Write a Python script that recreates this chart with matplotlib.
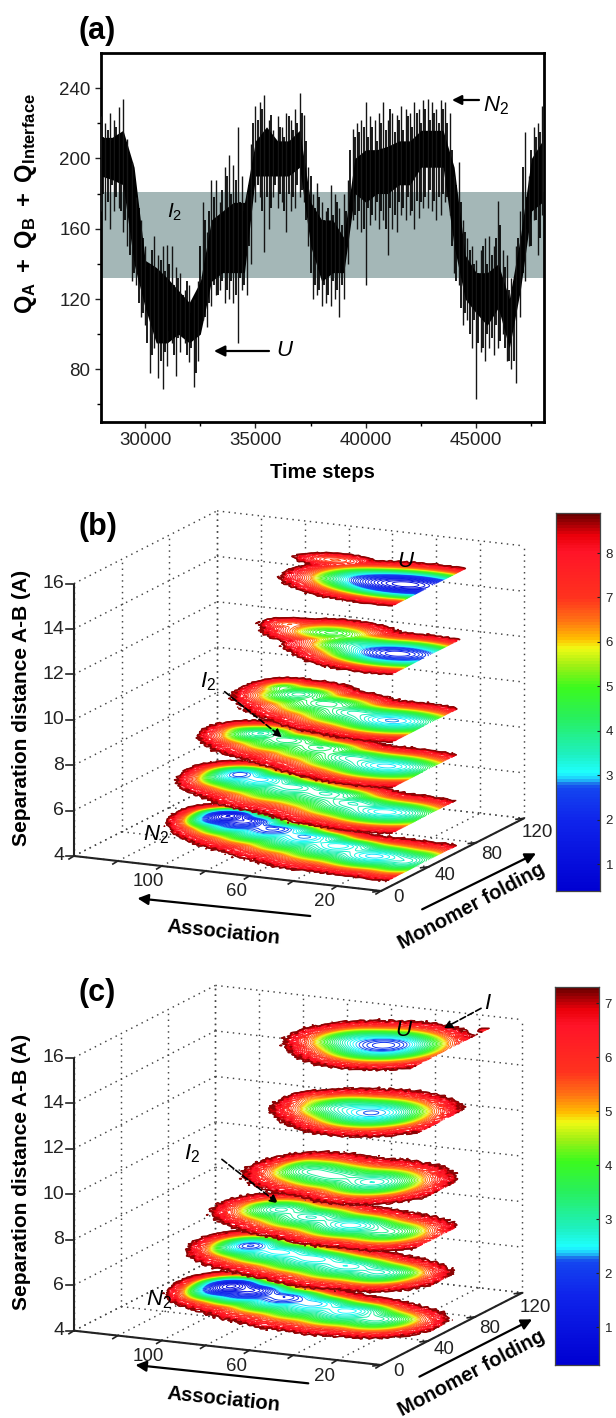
import numpy as np
import matplotlib
matplotlib.use('Agg')
import matplotlib.pyplot as plt
from matplotlib.colors import LinearSegmentedColormap
from matplotlib.transforms import Affine2D

plt.rcParams['font.family'] = ['Liberation Sans', 'DejaVu Sans']
plt.rcParams['mathtext.fontset'] = 'custom'
plt.rcParams['mathtext.rm'] = 'Liberation Sans'
plt.rcParams['mathtext.it'] = 'Liberation Sans:italic'
plt.rcParams['mathtext.bf'] = 'Liberation Sans:bold'

# ---------- panel (a) data ----------
t_start, t_step = 28000, 200
q_hi = [224,220,226,222,229,234,211,198,178,165,150,140,156,145,150,151,150,138,135,125,128,120,130,175,158,188,188,175,195,202,196,218,190,180,208,230,232,236,222,216,224,218,226,222,228,237,225,195,180,186,175,170,185,180,172,180,188,217,220,222,232,224,222,226,232,222,226,225,230,228,226,232,228,233,234,232,228,233,232,226,190,198,165,155,150,142,148,155,156,150,176,148,145,132,150,170,215,190,218,220,230]
q_lo = [170,165,160,170,172,158,150,130,128,110,105,78,92,75,69,82,95,76,90,95,84,70,85,108,104,116,122,125,118,120,118,95,125,122,140,175,178,147,160,178,172,175,158,170,172,178,175,150,120,122,116,118,116,120,110,120,140,165,160,158,128,162,165,160,165,145,160,158,168,165,168,160,166,172,172,170,165,168,175,168,135,128,105,108,92,63,90,85,92,88,92,100,85,80,72,110,130,150,165,145,168]
t2_start = 28100
q_hi2 = [212,216,210,218,214,208,200,188,172,155,138,148,135,142,136,140,128,132,122,130,112,118,150,165,170,178,165,182,190,180,188,175,170,185,220,222,228,215,225,210,218,212,224,216,220,226,210,190,172,178,165,172,168,175,162,170,205,212,215,218,212,218,210,220,216,228,215,222,216,224,218,226,220,228,222,226,220,228,220,205,185,175,158,148,140,135,150,140,145,155,162,138,125,122,155,195,178,205,212,215]
q_lo2 = [180,175,185,178,170,165,145,135,118,112,95,88,100,85,90,102,88,98,100,88,92,78,102,110,118,128,122,130,125,130,122,132,128,150,180,185,170,178,172,185,180,170,180,178,185,182,165,135,128,125,128,122,130,125,128,150,170,168,170,160,172,168,175,170,160,172,168,175,172,178,170,176,175,178,182,176,178,180,178,150,130,115,112,100,108,95,92,100,98,105,96,92,85,85,120,135,160,150,165,155]
core_step = 500
core_hi = [212,212,216,195,142,138,132,125,118,130,165,170,175,175,210,218,210,210,216,175,165,165,155,200,205,205,207,210,210,216,216,216,195,145,135,135,140,120,155,200,210]
core_lo = [190,188,185,140,115,95,95,100,95,100,130,135,135,135,190,190,190,190,195,150,130,135,135,180,175,180,180,185,185,195,195,195,150,120,112,105,115,92,125,170,175]
band_i2 = [132, 181]

# ---------- panels (b)/(c) data: wells of the landscape per slice ----------
# each well: association, monomer folding, width a, width f upward, width f downward, free energy
slices_b = {
    4:  [(112,78,7,6,10,1.0),(102,74,9,6,12,1.7),(86,68,12,6,13,2.4),(68,62,12,6,14,2.8),(49,55,13,7,14,3.0),(28,46,14,10,11,2.9),(12,44,9,11,11,3.5)],
    6:  [(23,46,15,10,11,3.0),(42,53,13,8,13,3.5),(58,62,13,7,14,3.6),(76,66,13,7,14,3.4),(93,71,11,7,12,2.9),(105,75,8,7,11,2.6)],
    8:  [(23,47,15,10,11,2.9),(42,53,13,8,12,3.6),(61,62,12,7,13,4.0),(79,67,12,7,12,3.9),(94,72,9,7,10,3.6),(104,74,5,5,6,5.6)],
    10: [(21,48,15,10,11,2.8),(41,53,13,8,12,3.6),(58,61,13,8,12,3.9),(75,69,10,8,10,3.8),(86,76,6,6,6,4.8)],
    13: [(18,47,15,10,10,1.8),(38,52,12,9,9,3.6),(58,65,12,8,8,4.6),(80,70,6,5,5,6.8)],
    16: [(16,50,17,10,10,0.9),(35,52,12,9,9,3.0),(60,72,9,5,5,7.0)],
}
slices_c = {
    4:  [(114,85,8,8,12,0.7),(103,82,10,8,13,1.2),(86,78,12,8,15,1.9),(70,74,12,8,16,2.3),(52,69,13,9,15,2.4),(35,62,12,10,12,3.0)],
    6:  [(35,64,12,10,12,2.8),(52,68,14,10,14,2.6),(70,73,14,9,14,2.5),(88,77,14,9,13,2.4),(103,81,9,9,11,2.0)],
    8:  [(29,58,12,12,12,3.2),(47,62,14,11,13,2.5),(68,67,14,11,13,2.8),(85,73,11,10,12,2.9),(95,76,5,5,7,4.8)],
    10: [(37,62,13,14,14,2.7),(56,64,14,13,13,3.0),(68,68,11,12,12,3.1),(76,74,6,9,9,4.2)],
    13: [(38,63,14,14,14,2.2),(52,66,12,12,12,2.9),(70,72,6,8,8,5.3)],
    16: [(33,64,14,14,14,1.8),(46,67,12,12,12,2.8),(5,100,3,2,2,6.5)],
}
edge_rough = [0.4,-0.7,0.9,-0.2,0.6,-0.9,0.2,0.8,-0.5,-0.1,0.7,-0.8,0.3,
              -0.6,0.5,-0.3,0.9,-0.7,0.1,-0.9,0.6,0.4,-0.2,0.8,-0.4,
              0.7,0.1,-0.8,0.5,-0.5,0.9,-0.1,-0.6,0.3,0.8,-0.9,0.2]
z_ticks = [4,6,8,10,12,14,16]
a_ticks = [140,120,100,80,60,40,20,0]
f_ticks = [0,40,80,120]
a_labels = {100:'100',60:'60',20:'20'}
f_labels = {0:'0',40:'40',80:'80',120:'120'}
cb_ticks_b = [1,2,3,4,5,6,7,8]
cb_ticks_c = [1,2,3,4,5,6,7]

cm_stops = [(0.0,(0,0,210)),(0.18,(15,35,235)),(0.272,(20,70,240)),(0.285,(30,130,235)),(0.292,(30,195,250)),
            (0.31,(30,255,255)),(0.36,(30,240,190)),(0.46,(40,240,90)),(0.54,(60,250,30)),
            (0.60,(160,240,20)),(0.645,(240,250,20)),(0.67,(255,190,0)),(0.72,(255,110,20)),
            (0.78,(255,50,30)),(0.90,(255,20,40)),(0.945,(235,0,10)),(1.0,(105,0,0))]
cmap = LinearSegmentedColormap.from_list('land', [(p, tuple(v/255 for v in c)) for p, c in cm_stops], N=256)

W, H = 616, 1418
fig = plt.figure(figsize=(W/100, H/100), dpi=100)

def box(l, t, r, b):
    return [l/W, 1-b/H, (r-l)/W, (b-t)/H]

# ---------- panel a ----------
ax = fig.add_axes(box(101, 53, 543.5, 422))
t = t_start + t_step*np.arange(len(q_hi))
t2 = t2_start + t_step*np.arange(len(q_hi2))
tc = t_start + core_step*np.arange(len(core_hi))
ax.axhspan(band_i2[0], band_i2[1], color='#a4b7b7', lw=0, zorder=1)
ax.fill_between(tc, core_lo, core_hi, color='black', lw=0, zorder=2)
ax.vlines(t, q_lo, q_hi, color='#151515', lw=1.0, zorder=3)
ax.vlines(t2, q_lo2, q_hi2, color='#000000', lw=1.25, zorder=3)
ax.set_xlim(28000, 48050)
ax.set_ylim(50, 260)
ax.set_xticks([30000,35000,40000,45000])
ax.set_xticks([32500,37500,42500,47500], minor=True)
ax.set_yticks([80,120,160,200,240])
ax.set_yticks([60,100,140,180,220], minor=True)
ax.tick_params(axis='both', which='major', labelsize=13.5, length=4, width=1, colors='#222222')
ax.tick_params(axis='both', which='minor', length=3, width=1)
for s in ax.spines.values():
    s.set_linewidth(2)
ax.set_xlabel('Time steps', fontsize=14.5, fontweight='bold', labelpad=10)

# ---------- overlay in page pixels ----------
ov = fig.add_axes([0,0,1,1], zorder=5)
ov.set_xlim(0, W); ov.set_ylim(H, 0); ov.axis('off'); ov.patch.set_alpha(0)

def arrow(p0, p1, ls='-', lw=1.6, ms=16):
    ov.annotate('', xy=p1, xytext=p0, arrowprops=dict(arrowstyle='-|>', color='black', lw=lw, ls=ls,
                mutation_scale=ms, shrinkA=0, shrinkB=0), zorder=30)

ov.text(26, 204, r'$\mathbf{Q_A\ +\ Q_B\ +\ Q_{Interface}}$', rotation=90, fontsize=17, ha='center', va='center')
ov.text(79, 31, '(a)', fontsize=22, fontweight='bold', va='center')
ov.text(79, 527, '(b)', fontsize=22, fontweight='bold', va='center')
ov.text(79, 993, '(c)', fontsize=22, fontweight='bold', va='center')
arrow((269,351),(214,351))
ov.text(276,351,'$\\mathit{U}$',fontsize=16,va='center')
arrow((479,100),(452,100),ms=14)
ov.text(483,106,'$\\mathit{N}_{2}$',fontsize=16,va='center')
ov.text(167,212,'$\\mathit{I}_{2}$',fontsize=15,va='center')

A_SPAN = 140
F_SPAN = 120
def landscape(origin, avec, fvec, zk, slices, vmin, vmax, step, ra):
    ox, oy = origin
    def proj(a, f, z):
        return ox + a*avec[0]/A_SPAN + f*fvec[0]/F_SPAN, oy + a*avec[1]/A_SPAN + f*fvec[1]/F_SPAN - (z-4)*zk
    def seg(p, q, **kw):
        ov.plot([p[0],q[0]],[p[1],q[1]], **kw)
    dot = dict(color='#444444', lw=1.05, ls=(0,(1,3)), zorder=1)
    for z in z_ticks:
        seg(proj(A_SPAN,0,z), proj(A_SPAN,F_SPAN,z), **dot)
        seg(proj(A_SPAN,F_SPAN,z), proj(0,F_SPAN,z), **dot)
    for a in a_ticks:
        seg(proj(a,F_SPAN,4), proj(a,F_SPAN,16), **dot)
        seg(proj(a,0,4), proj(a,F_SPAN,4), **dot)
    for f in f_ticks:
        seg(proj(A_SPAN,f,4), proj(A_SPAN,f,16), **dot)
        seg(proj(A_SPAN,f,4), proj(0,f,4), **dot)
    solid = dict(color='#222222', lw=1.5, zorder=2, solid_capstyle='butt')
    seg(proj(A_SPAN,0,4), proj(A_SPAN,0,16), **solid)
    seg(proj(A_SPAN,0,4), proj(0,0,4), **solid)
    seg(proj(0,0,4), proj(0,F_SPAN,4), **solid)
    for z in z_ticks:
        p = proj(A_SPAN,0,z)
        seg(p, (p[0]-8, p[1]), color='#222222', lw=1.2, zorder=2)
        ov.text(p[0]-10, p[1], str(z), ha='right', va='center', fontsize=14, color='#222222')
    for a in a_ticks:
        p = proj(a,0,4)
        seg(p, (p[0]-5, p[1]+3), color='#222222', lw=1.2, zorder=2)
        if a in a_labels:
            ov.text(p[0]-13, p[1]+16, a_labels[a], ha='center', va='center', fontsize=13.5, color='#222222')
    for f in f_ticks:
        p = proj(0,f,4)
        seg(p, (p[0]-8, p[1]+1), color='#222222', lw=1.2, zorder=2)
        ov.text(p[0]+18-f*0.04, p[1]+6+f*0.07, f_labels[f], ha='center', va='center', fontsize=13.5, color='#222222')
    ag = np.arange(ra, A_SPAN+2, 1.6)
    fg = np.arange(0, 125, 1.5)
    A, F = np.meshgrid(ag, fg)
    levels = np.arange(vmin+0.1, vmax-0.1, step)
    T = 0.5
    rough = np.resize(edge_rough, A.shape)
    rough = np.roll(rough, 5, axis=0) + np.roll(rough[:, ::-1], 2, axis=1)
    knee = 0.72*vmax
    for k, z in enumerate(sorted(slices)):
        G = np.zeros_like(A)
        for (a0, f0, sa, su, sd, e) in slices[z]:
            sf = np.where(F > f0, su, sd)
            G = G + np.exp(-(e + ((A-a0)/sa)**2 + ((F-f0)/sf)**2)/T)
        G = -T*np.log(G + 1e-200)
        G = np.where(G > knee, knee + (G-knee)*0.5, G)
        G = G + 0.32*rough*np.clip((G-(vmax-1.8))/1.0, 0, 1)
        x0, y0 = proj(0,0,z)
        tr = Affine2D.from_values(avec[0]/A_SPAN, avec[1]/A_SPAN, fvec[0]/F_SPAN, fvec[1]/F_SPAN, x0, y0) + ov.transData
        zo = 3 + k
        ov.contourf(A, F, G, levels=[-100, levels[-1]], colors='white', transform=tr, zorder=zo)
        ov.contour(A, F, G, levels=levels, cmap=cmap, vmin=vmin, vmax=vmax, linewidths=0.7, transform=tr, zorder=zo)
        ov.contour(A, F, G, levels=[levels[-1]], colors='#8a0505', linewidths=1.0, transform=tr, zorder=zo)
    return proj

sx, sy = 0.3927, 1/3

# panel b
landscape((381, 891), (-307, -35), (143, -72.7), 22.7, slices_b, 0.4, 8.9, 0.13, 5)
def pb(X, Y): return (X*sx, 490+Y*sy)
ov.text(*pb(55,655), 'Separation distance A-B (A)', rotation=90, fontsize=15, fontweight='bold', ha='center', va='center')
ov.text(*pb(570,1328), 'Association', rotation=-6, fontsize=14.5, fontweight='bold', ha='center', va='center', zorder=30)
ov.text(*pb(1200,1250), 'Monomer folding', rotation=28, fontsize=14.5, fontweight='bold', ha='center', va='center', rotation_mode='anchor', zorder=30)
arrow(pb(790,1278), pb(350,1225))
arrow(pb(1075,1258), pb(1365,1090))
ov.text(*pb(1035,215), '$\\mathit{U}$', fontsize=16, ha='center', va='center', zorder=30)
ov.text(*pb(398,1035), '$\\mathit{N}_{2}$', fontsize=16, ha='center', va='center', zorder=30)
ov.text(*pb(530,575), '$\\mathit{I}_{2}$', fontsize=16, ha='center', va='center', zorder=30)
ov.annotate('', xy=pb(718,742), xytext=pb(572,605), zorder=30,
            arrowprops=dict(arrowstyle='-|>', color='black', lw=1.2, ls='--', mutation_scale=12, shrinkA=0, shrinkB=0))

# panel c
landscape((381, 1365), (-307, -34.3), (141.4, -72.3), 22.75, slices_c, 0.3, 7.3, 0.115, 6)
def pc(X, Y): return (X*sx, 960+Y*sy)
ov.text(*pc(55,635), 'Separation distance A-B (A)', rotation=90, fontsize=15, fontweight='bold', ha='center', va='center')
ov.text(*pc(570,1318), 'Association', rotation=-6, fontsize=14.5, fontweight='bold', ha='center', va='center', zorder=30)
ov.text(*pc(1200,1240), 'Monomer folding', rotation=28, fontsize=14.5, fontweight='bold', ha='center', va='center', rotation_mode='anchor', zorder=30)
arrow(pc(785,1270), pc(345,1215))
arrow(pc(1068,1250), pc(1355,1078))
ov.text(*pc(1030,212), '$\\mathit{U}$', fontsize=16, ha='center', va='center', zorder=30)
ov.text(*pc(1243,130), '$\\mathit{I}$', fontsize=16, ha='center', va='center', zorder=30)
ov.text(*pc(405,1020), '$\\mathit{N}_{2}$', fontsize=16, ha='center', va='center', zorder=30)
ov.text(*pc(488,580), '$\\mathit{I}_{2}$', fontsize=16, ha='center', va='center', zorder=30)
ov.annotate('', xy=pc(708,730), xytext=pc(565,598), zorder=30,
            arrowprops=dict(arrowstyle='-|>', color='black', lw=1.2, ls='--', mutation_scale=12, shrinkA=0, shrinkB=0))
ov.annotate('', xy=pc(1130,205), xytext=pc(1225,145), zorder=30,
            arrowprops=dict(arrowstyle='-|>', color='black', lw=1.2, ls='--', mutation_scale=12, shrinkA=0, shrinkB=0))

# colorbars
def colorbar(rect, vmin, vmax, ticks):
    cax = fig.add_axes(box(*rect))
    grad = np.linspace(vmin, vmax, 128).reshape(-1, 1)
    cax.pcolormesh([0, 1], np.linspace(vmin, vmax, 129), grad, cmap=cmap, vmin=vmin, vmax=vmax)
    cax.set_xticks([])
    cax.yaxis.tick_right()
    cax.set_yticks(ticks)
    cax.tick_params(axis='y', direction='in', length=2, width=0.8, labelsize=9.5, pad=4, colors='#222222')
    for s in cax.spines.values():
        s.set_linewidth(0.9); s.set_color('#444444')

colorbar((556, 513, 600, 891), 0.4, 8.9, cb_ticks_b)
colorbar((555, 987, 599, 1365), 0.3, 7.3, cb_ticks_c)

fig.savefig('out.png', dpi=100)
